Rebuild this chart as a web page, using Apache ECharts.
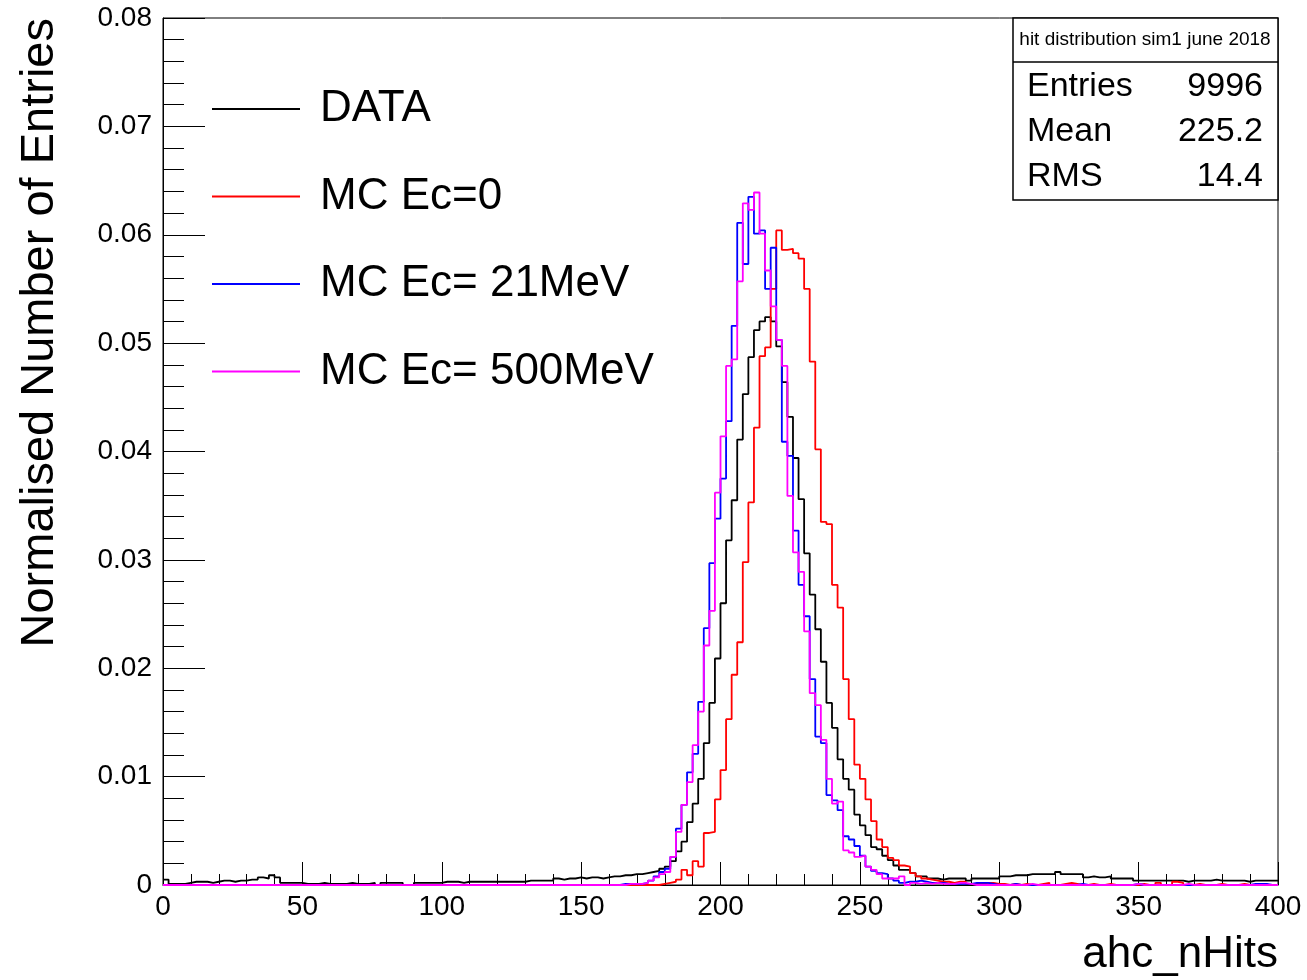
<!DOCTYPE html>
<html>
<head>
<meta charset="utf-8">
<title>ahc_nHits</title>
<script src="https://cdn.jsdelivr.net/npm/echarts@6/dist/echarts.min.js"></script>
<style>
  html, body { margin: 0; padding: 0; background: #fff; }
  #chart { width: 1307px; height: 980px; }
</style>
</head>
<body>
<div id="chart"></div>
<script>
// histogram binning: 200 bins of width 2 from 0 to 400
const binWidth = 2;
const xMin = 0;
const xMax = 400;

const seriesNames = ["DATA", "MC Ec=0", "MC Ec= 21MeV", "MC Ec= 500MeV"];
const seriesColors = ["#000000", "#ff0000", "#0000ff", "#ff00ff"];

// bin contents, one row = 20 bins (40 hits)
const dataHist = [
  0.0005,0.0001,0.0001,0.0001,0.0002,0.0003,0.0003,0.0003,0.0002,0.0003,0.0004,0.0004,0.0003,0.0004,0.0004,0.0005,0.0005,0.0007,0.0006,0.0009,
  0.0007,0.0002,0.0002,0.0002,0.0002,0.0001,0.0001,0.0001,0.0002,0.0001,0.0001,0.0001,0.0001,0.0002,0.0001,0.0001,0.0001,0.0002,0.0000,0.0002,
  0.0002,0.0002,0.0002,0.0000,0.0000,0.0002,0.0002,0.0002,0.0002,0.0002,0.0003,0.0003,0.0003,0.0002,0.0003,0.0003,0.0003,0.0003,0.0003,0.0003,
  0.0003,0.0003,0.0003,0.0003,0.0003,0.0004,0.0004,0.0004,0.0004,0.0004,0.0006,0.0005,0.0006,0.0006,0.0007,0.0006,0.0007,0.0007,0.0006,0.0007,
  0.0008,0.0008,0.0009,0.0009,0.0010,0.0010,0.0011,0.0012,0.0013,0.0015,0.0017,0.0022,0.0031,0.0040,0.0058,0.0075,0.0098,0.0131,0.0168,0.0209,
  0.0260,0.0318,0.0355,0.0411,0.0453,0.0487,0.0512,0.0520,0.0524,0.0520,0.0497,0.0464,0.0432,0.0394,0.0356,0.0306,0.0268,0.0236,0.0206,0.0168,
  0.0145,0.0116,0.0098,0.0088,0.0065,0.0055,0.0046,0.0035,0.0033,0.0027,0.0023,0.0018,0.0014,0.0014,0.0011,0.0008,0.0008,0.0006,0.0006,0.0005,
  0.0006,0.0006,0.0006,0.0006,0.0004,0.0006,0.0006,0.0006,0.0006,0.0006,0.0008,0.0008,0.0009,0.0009,0.0009,0.0010,0.0010,0.0010,0.0010,0.0010,
  0.0012,0.0010,0.0010,0.0010,0.0010,0.0007,0.0008,0.0007,0.0007,0.0008,0.0006,0.0006,0.0006,0.0006,0.0004,0.0004,0.0004,0.0004,0.0004,0.0004,
  0.0004,0.0004,0.0004,0.0003,0.0004,0.0004,0.0004,0.0004,0.0005,0.0004,0.0004,0.0004,0.0004,0.0004,0.0003,0.0004,0.0004,0.0004,0.0004,0.0004
];

const mcEc0 = [
  0,0,0,0,0,0,0,0,0,0,0,0,0,0,0,0,0,0,0,0,
  0,0,0,0,0,0,0,0,0,0,0,0,0,0,0,0,0,0,0,0,
  0,0,0,0,0,0,0,0,0,0,0,0,0,0,0,0,0,0,0,0,
  0,0,0,0,0,0,0,0,0,0,0,0,0,0,0,0,0,0,0,0,
  0,0,0,0,0,0,0,0,0,0.0001,0.0002,0.0003,0.0005,0.0014,0.0009,0.0022,0.0017,0.0048,0.0049,0.0079,
  0.0106,0.0153,0.0194,0.0224,0.0298,0.0353,0.0422,0.0488,0.0496,0.0550,0.0604,0.0586,0.0587,0.0583,0.0578,0.0550,0.0483,0.0402,0.0335,0.0333,
  0.0277,0.0256,0.0190,0.0153,0.0111,0.0098,0.0079,0.0059,0.0042,0.0035,0.0025,0.0023,0.0018,0.0017,0.0011,0.0008,0.0006,0.0005,0.0004,0.0003,
  0.0003,0.0002,0.0003,0.0003,0.0001,0.0001,0.0001,0.0002,0.0002,0.0001,0.0001,0,0.0001,0,0.0001,0,0,0.0001,0.0002,0,
  0,0.0001,0.0002,0.0001,0,0,0.0001,0,0,0.0001,0,0,0,0,0,0.0001,0,0,0.0002,0,
  0,0.0003,0.0002,0,0,0.0001,0,0,0,0.0001,0,0,0,0.0001,0,0,0,0,0,0
];

const mcEc21 = [
  0,0,0,0,0,0,0,0,0,0,0,0,0,0,0,0,0,0,0,0,
  0,0,0,0,0,0,0,0,0,0,0,0,0,0,0,0,0,0,0,0,
  0,0,0,0,0,0,0,0,0,0,0,0,0,0,0,0,0,0,0,0,
  0,0,0,0,0,0,0,0,0,0,0,0,0,0,0,0,0,0,0,0,
  0,0,0.0001,0.0001,0.0001,0.0001,0.0002,0.0004,0.0008,0.0012,0.0015,0.0026,0.0052,0.0074,0.0104,0.0121,0.0169,0.0237,0.0297,0.0338,
  0.0375,0.0428,0.0516,0.0611,0.0573,0.0635,0.0601,0.0604,0.0550,0.0588,0.0503,0.0409,0.0396,0.0327,0.0277,0.0248,0.0190,0.0137,0.0131,0.0083,
  0.0078,0.0069,0.0045,0.0042,0.0036,0.0027,0.0017,0.0013,0.0011,0.0010,0.0006,0.0004,0.0002,0.0003,0.0003,0.0004,0.0003,0.0002,0.0002,0.0002,
  0.0001,0.0001,0.0001,0.0001,0.0001,0.0002,0.0002,0.0002,0.0001,0,0,0,0.0001,0,0,0,0,0,0,0,
  0,0,0,0,0.0001,0,0,0,0,0,0,0,0,0,0.0001,0,0,0,0,0,
  0,0,0,0,0,0,0,0,0,0,0,0,0,0,0,0.0001,0.0001,0.0001,0,0
];

const mcEc500 = [
  0,0,0,0,0,0,0,0,0,0,0,0,0,0,0,0,0,0,0,0,
  0,0,0,0,0,0,0,0,0,0,0,0,0,0,0,0,0,0,0,0,
  0,0,0,0,0,0,0,0,0,0,0,0,0,0,0,0,0,0,0,0,
  0,0,0,0,0,0,0,0,0,0,0,0,0,0,0,0,0,0,0,0,
  0,0,0,0.0001,0.0001,0.0001,0.0002,0.0004,0.0007,0.0010,0.0012,0.0026,0.0049,0.0074,0.0095,0.0129,0.0160,0.0221,0.0253,0.0362,
  0.0414,0.0479,0.0485,0.0557,0.0629,0.0623,0.0639,0.0601,0.0567,0.0534,0.0503,0.0479,0.0359,0.0307,0.0289,0.0234,0.0177,0.0166,0.0134,0.0098,
  0.0075,0.0077,0.0032,0.0030,0.0026,0.0027,0.0017,0.0014,0.0010,0.0006,0.0006,0.0006,0.0008,0,0.0002,0.0001,0.0002,0.0001,0.0002,0.0001,
  0.0001,0.0001,0.0002,0.0002,0.0001,0,0,0,0,0,0,0,0,0,0,0.0001,0,0,0,0,
  0,0,0,0,0,0,0,0,0,0,0,0,0,0,0.0001,0,0,0,0,0,
  0,0,0,0.0001,0,0,0,0,0,0,0,0,0,0,0,0,0,0,0,0
];

// stats box of the DATA histogram
const statsTitle = "hit distribution sim1 june 2018";
const statsLabels = ["Entries", "Mean", "RMS"];
const statsValues = ["9996", "225.2", "14.4"];

const xTitle = "ahc_nHits";
const yTitle = "Normalised Number of Entries";

const FONT = "Liberation Sans, Helvetica, Arial, sans-serif";

// [binLowEdge, content] pairs plus a closing point at the upper edge
function toSteps(values) {
  const pts = values.map((v, i) => [xMin + i * binWidth, v]);
  pts.push([xMax, values[values.length - 1]]);
  return pts;
}

const chart = echarts.init(document.getElementById("chart"), null, { renderer: "canvas" });

const histograms = [dataHist, mcEc0, mcEc21, mcEc500];

const option = {
  animation: false,
  backgroundColor: "#ffffff",
  grid: {
    left: 163,
    right: 29,
    top: 18,
    bottom: 95,
    show: true,
    borderColor: "#000",
    borderWidth: 1,
    backgroundColor: "transparent",
  },
  legend: {
    orient: "vertical",
    left: 212,
    top: 87,
    padding: 0,
    icon: "rect",
    itemWidth: 88,
    itemHeight: 2,
    itemGap: 43.5,
    data: seriesNames,
    textStyle: {
      fontFamily: FONT,
      fontSize: 44,
      color: "#000",
      padding: [0, 0, 0, 15],
    },
  },
  xAxis: {
    type: "value",
    min: xMin,
    max: xMax,
    interval: 50,
    axisLine: { show: true, lineStyle: { color: "#000", width: 1 } },
    axisTick: { show: true, inside: true, length: 23, lineStyle: { color: "#000" } },
    minorTick: { show: true, splitNumber: 5, length: 11, lineStyle: { color: "#000" } },
    splitLine: { show: false },
    axisLabel: {
      fontFamily: FONT,
      fontSize: 28,
      color: "#000",
      margin: 8,
      showMaxLabel: true,
      showMinLabel: true,
    },
  },
  yAxis: {
    type: "value",
    min: 0,
    max: 0.08,
    interval: 0.01,
    axisLine: { show: true, lineStyle: { color: "#000", width: 1 } },
    axisTick: { show: true, inside: true, length: 42, lineStyle: { color: "#000" } },
    minorTick: { show: true, splitNumber: 5, length: 21, lineStyle: { color: "#000" } },
    splitLine: { show: false },
    axisLabel: {
      fontFamily: FONT,
      fontSize: 28,
      color: "#000",
      margin: 11,
      formatter: (v) => (v === 0 ? "0" : v.toFixed(2)),
    },
  },
  series: histograms.map((h, k) => ({
    name: seriesNames[k],
    type: "line",
    step: "end",
    symbol: "none",
    data: toSteps(h),
    lineStyle: { color: seriesColors[k], width: 1.8 },
    itemStyle: { color: seriesColors[k] },
    z: 2 + k,
  })),
  graphic: [
    {
      type: "text",
      x: 40,
      y: 18,
      rotation: Math.PI / 2,
      style: {
        text: yTitle,
        fontFamily: FONT,
        fontSize: 47,
        fill: "#000",
        align: "right",
        verticalAlign: "middle",
      },
    },
    {
      type: "text",
      x: 1278,
      y: 955,
      style: {
        text: xTitle,
        fontFamily: FONT,
        fontSize: 44,
        fill: "#000",
        align: "right",
        verticalAlign: "middle",
      },
    },
    // stats box
    {
      type: "rect",
      shape: { x: 1013, y: 18, width: 265, height: 182 },
      style: { fill: "#fff", stroke: "#000", lineWidth: 1.5 },
      z: 50,
    },
    {
      type: "line",
      shape: { x1: 1013, y1: 62, x2: 1278, y2: 62 },
      style: { stroke: "#000", lineWidth: 1.5 },
      z: 51,
    },
    {
      type: "text",
      x: 1145,
      y: 40,
      style: {
        text: statsTitle,
        fontFamily: FONT,
        fontSize: 19,
        fill: "#000",
        align: "center",
        verticalAlign: "middle",
      },
      z: 51,
    },
    ...statsLabels.map((lab, i) => ({
      type: "text",
      x: 1027,
      y: 87 + i * 45,
      style: {
        text: lab,
        fontFamily: FONT,
        fontSize: 34,
        fill: "#000",
        align: "left",
        verticalAlign: "middle",
      },
      z: 51,
    })),
    ...statsValues.map((val, i) => ({
      type: "text",
      x: 1263,
      y: 87 + i * 45,
      style: {
        text: val,
        fontFamily: FONT,
        fontSize: 34,
        fill: "#000",
        align: "right",
        verticalAlign: "middle",
      },
      z: 51,
    })),
  ],
};

chart.setOption(option);
</script>
</body>
</html>
